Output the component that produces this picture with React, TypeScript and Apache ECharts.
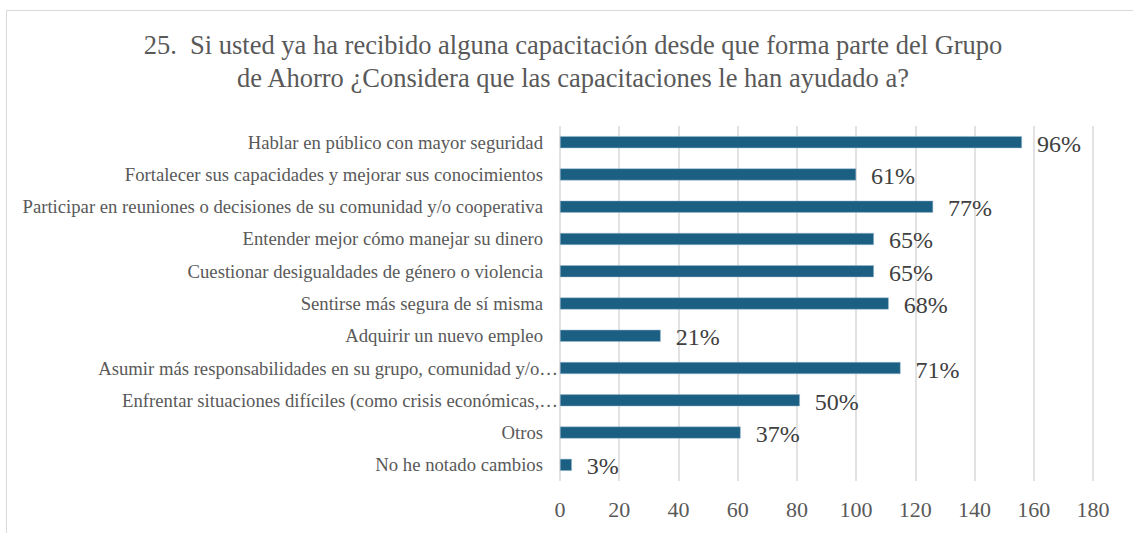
import React, { useEffect, useRef } from "react";
import * as echarts from "echarts";

const titleLines = [
  "25.\u00a0 Si usted ya ha recibido alguna capacitación desde que forma parte del Grupo",
  "de Ahorro ¿Considera que las capacitaciones le han ayudado a?",
];

const categories = [
  "Hablar en público con mayor seguridad",
  "Fortalecer sus capacidades y mejorar sus conocimientos",
  "Participar en reuniones o decisiones de su comunidad y/o cooperativa",
  "Entender mejor cómo manejar su dinero",
  "Cuestionar desigualdades de género o violencia",
  "Sentirse más segura de sí misma",
  "Adquirir un nuevo empleo",
  "Asumir más responsabilidades en su grupo, comunidad y/o…",
  "Enfrentar situaciones difíciles (como crisis económicas,…",
  "Otros",
  "No he notado cambios",
];

const truncated = [false, false, false, false, false, false, false, true, true, false, false];

const counts = [156, 100, 126, 106, 106, 111, 34, 115, 81, 61, 4];

const pctLabels = ["96%", "61%", "77%", "65%", "65%", "68%", "21%", "71%", "50%", "37%", "3%"];

const axisMin = 0;
const axisMax = 180;
const axisStep = 20;

const FONT = "Liberation Serif";

export default function App() {
  const ref = useRef<HTMLDivElement>(null);

  useEffect(() => {
    if (!ref.current) return;
    const chart = echarts.init(ref.current, undefined, { renderer: "svg" });
    chart.setOption({
      animation: false,
      backgroundColor: "#ffffff",
      textStyle: { fontFamily: FONT },
      graphic: [
        {
          type: "rect",
          shape: { x: 6.5, y: 10.5, width: 1200, height: 700 },
          style: { fill: "none", stroke: "#d9d9d9", lineWidth: 1 },
          silent: true,
        },
        {
          type: "text",
          x: 573,
          y: 29,
          style: {
            text: titleLines.join("\n"),
            align: "center",
            verticalAlign: "top",
            textAlign: "center",
            textVerticalAlign: "top",
            fontSize: 26.5,
            lineHeight: 32.5,
            fontFamily: FONT,
            fill: "#595959",
          },
        },
      ],
      grid: { left: 560, right: 40, top: 126, bottom: 52, containLabel: false },
      xAxis: {
        type: "value",
        min: axisMin,
        max: axisMax,
        interval: axisStep,
        axisLine: { show: false },
        axisTick: { show: false },
        splitLine: { show: true, lineStyle: { color: "#d9d9d9", width: 1.5 } },
        axisLabel: { fontSize: 22, fontFamily: FONT, color: "#595959", margin: 17 },
      },
      yAxis: {
        type: "category",
        inverse: true,
        data: categories,
        axisLine: { show: false },
        axisTick: { show: false },
        axisLabel: {
          margin: 2,
          fontSize: 18.7,
          fontFamily: FONT,
          color: "#595959",
          formatter: (v: string, i: number) => (truncated[i] ? `{t|${v}}` : `{n|${v}}`),
          rich: {
            n: { fontSize: 18.7, fontFamily: FONT, color: "#595959", padding: [0, 15, 0, 0] },
            t: { fontSize: 18.7, fontFamily: FONT, color: "#595959" },
          },
        },
      },
      series: [
        {
          type: "bar",
          data: counts,
          barWidth: 12,
          itemStyle: { color: "#1b5f83", borderColor: "#9fbdd0", borderWidth: 0.5 },
          label: {
            show: true,
            position: "right",
            distance: 15,
            fontSize: 24,
            fontFamily: FONT,
            color: "#404040",
            offset: [0, 1.5],
            formatter: (p: any) => pctLabels[p.dataIndex],
          },
        },
      ],
    });
    return () => chart.dispose();
  }, []);

  return (
    <div
      ref={ref}
      style={{ position: "fixed", left: 0, top: 0, width: 1133, height: 533, background: "#fff" }}
    />
  );
}
